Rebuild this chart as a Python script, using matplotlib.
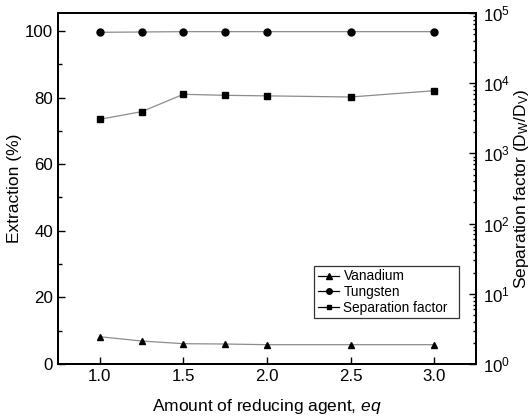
import matplotlib
matplotlib.use("Agg")
import matplotlib.pyplot as plt
from matplotlib.ticker import MultipleLocator, LogLocator, NullFormatter

plt.rcParams['font.family'] = ['Liberation Sans', 'DejaVu Sans']
plt.rcParams['mathtext.fontset'] = 'custom'
plt.rcParams['mathtext.rm'] = 'Liberation Sans'
plt.rcParams['mathtext.it'] = 'Liberation Sans:italic'

# reducing agent amount (eq)
eq = [1.0, 1.25, 1.5, 1.75, 2.0, 2.5, 3.0]
vanadium = [8.2, 6.9, 6.1, 6.0, 5.8, 5.8, 5.8]
tungsten = [99.6, 99.7, 99.8, 99.8, 99.8, 99.8, 99.8]
sep_factor = [3060, 3930, 6950, 6720, 6600, 6360, 7820]

line_col = '#8c8c8c'

fig = plt.figure(figsize=(5.3, 4.18), dpi=100)
ax = fig.add_axes([58 / 530, 1 - 364 / 418, 418 / 530, 351 / 418])
ax2 = ax.twinx()

lv, = ax.plot(eq, vanadium, color=line_col, lw=0.9, marker='^', ms=5,
              mfc='black', mec='black', label='Vanadium')
lt, = ax.plot(eq, tungsten, color=line_col, lw=0.9, marker='o', ms=5,
              mfc='black', mec='black', label='Tungsten')
ls, = ax2.plot(eq, sep_factor, color=line_col, lw=0.9, marker='s', ms=4,
               mfc='black', mec='black', label='Separation factor')

ax.set_xlim(0.75, 3.25)
ax.set_ylim(0, 105.4)
ax2.set_yscale('log')
ax2.set_ylim(1, 1e5)

ax.set_xticks([1.0, 1.5, 2.0, 2.5, 3.0])
ax.yaxis.set_major_locator(MultipleLocator(20))
ax.yaxis.set_minor_locator(MultipleLocator(10))
ax.tick_params(axis='both', which='both', direction='in', labelsize=12.2,
               width=1.0, top=False, right=False)
ax.tick_params(axis='both', which='major', length=5)
ax.tick_params(axis='y', which='minor', length=3)
ax2.yaxis.set_major_locator(LogLocator(base=10, numticks=10))
ax2.yaxis.set_minor_locator(LogLocator(base=10, subs=range(2, 10), numticks=20))
ax2.yaxis.set_minor_formatter(NullFormatter())
ax2.tick_params(axis='y', which='both', direction='in', labelsize=12.2, width=1.0)
ax2.tick_params(axis='y', which='major', length=5, pad=5)
ax2.tick_params(axis='y', which='minor', length=2.5)

for a in (ax, ax2):
    for sp in a.spines.values():
        sp.set_linewidth(1.4)

ax.set_xlabel('Amount of reducing agent, $\\mathit{eq}$', fontsize=12.5)
ax.xaxis.set_label_coords(0.5, -0.095)
ax.set_ylabel('Extraction (%)', fontsize=12.5)
ax.yaxis.set_label_coords(-0.086, 0.5)
ax2.set_ylabel('Separation factor (D$_\\mathregular{W}$/D$_\\mathregular{V}$)',
               fontsize=12.5)
ax2.yaxis.set_label_coords(1.086, 0.5)

leg = ax.legend(handles=[lv, lt, ls], loc='lower left',
                bbox_to_anchor=(0.613, 0.131, 0.346, 0.148), mode='expand',
                fontsize=9.8, frameon=True, fancybox=False, handlelength=1.6,
                handletextpad=0.3, borderpad=0.25, labelspacing=0.12,
                borderaxespad=0, markerscale=0.8)
leg.get_frame().set_edgecolor('black')
leg.get_frame().set_linewidth(0.9)
for h in leg.legend_handles:
    h.set_color('black')
    h.set_markerfacecolor('black')

fig.savefig('out.png', dpi=100)
